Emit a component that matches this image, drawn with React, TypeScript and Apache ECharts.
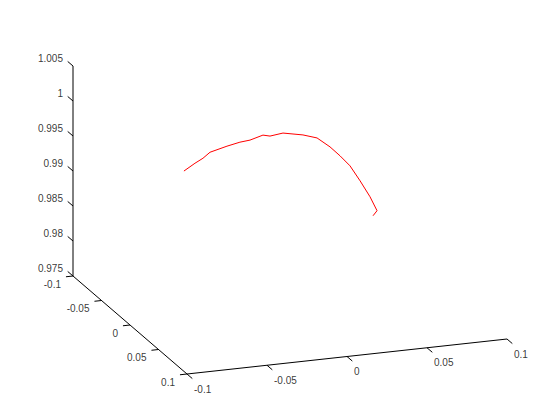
import React, { useEffect, useRef } from "react";
import * as echarts from "echarts";

// tick values of the three axes
const xTicks = [-0.1, -0.05, 0, 0.05, 0.1];
const yTicks = [-0.1, -0.05, 0, 0.05, 0.1];
const zTicks = [0.975, 0.98, 0.985, 0.99, 0.995, 1, 1.005];
const xTickLabels = ["-0.1", "-0.05", "0", "0.05", "0.1"];
const yTickLabels = ["-0.1", "-0.05", "0", "0.05", "0.1"];
const zTickLabels = ["0.975", "0.98", "0.985", "0.99", "0.995", "1", "1.005"];

// the 3-D curve
const curveX = [-0.0663, -0.0594, -0.0544, -0.05, -0.0394, -0.0313, -0.025, -0.0169, -0.0125, -0.0044, 0.0081, 0.0169, 0.025, 0.0313, 0.0375, 0.0438, 0.05, 0.0544, 0.0519];
const curveY = [0, 0, 0, 0, 0, 0, 0, 0, 0, 0, 0, 0, 0, 0, 0, 0, 0, 0, 0];
const curveZ = [0.99615, 0.99709, 0.99768, 0.99843, 0.99903, 0.9994, 0.99954, 1.00005, 0.9998, 1.00003, 0.99945, 0.9988, 0.99732, 0.99588, 0.9943, 0.992, 0.98957, 0.98747, 0.98681];

const X0 = -0.1, X1 = 0.1, Y0 = -0.1, Y1 = 0.1, Z0 = 0.975, Z1 = 1.005;

// simple oblique projection of the MATLAB-style view into the 2-D helper scale
function project(x: number, y: number, z: number): [number, number] {
  const a = (x - X0) / (X1 - X0);
  const b = (y - Y0) / (Y1 - Y0);
  const c = (z - Z0) / (Z1 - Z0);
  const sx = 73 + a * 320 + b * 114;
  const sy = 276 - a * 35 + b * 98 - c * 210;
  return [sx, sy];
}

const FONT = "'Liberation Sans', Arial, Helvetica, sans-serif";

export default function App() {
  const ref = useRef<HTMLDivElement>(null);
  useEffect(() => {
    if (!ref.current) return;
    const chart = echarts.init(ref.current, undefined, { renderer: "svg" });

    const axisLine = (pts: [number, number][]) => ({
      type: "line",
      data: pts,
      symbol: "none",
      silent: true,
      lineStyle: { color: "#000", width: 1 },
      z: 2,
    });

    const zAxis = [project(X0, Y0, Z0), project(X0, Y0, Z1)];
    const yAxis3 = [project(X0, Y0, Z0), project(X0, Y1, Z0)];
    const xAxis3 = [project(X0, Y1, Z0), project(X1, Y1, Z0)];

    const tickSegs: any[] = [];
    const dy = 0.0093, dx = 0.0044;
    zTicks.forEach((z) => {
      tickSegs.push(project(X0, Y0, z), project(X0, Y0 - dy, z), null);
    });
    yTicks.forEach((y) => {
      tickSegs.push(project(X0, y, Z0), project(X0 - dx, y, Z0), null);
    });
    xTicks.forEach((x) => {
      tickSegs.push(project(x, Y1, Z0), project(x, Y1 + dy, Z0), null);
    });

    const labelSeries = (
      pts: [number, number][],
      texts: string[],
      align: string,
      offset: [number, number]
    ) => ({
      type: "scatter",
      symbolSize: 0,
      silent: true,
      data: pts.map((p, i) => ({ value: p, name: texts[i] })),
      label: {
        show: true,
        position: "inside",
        align,
        verticalAlign: "middle",
        offset,
        formatter: (p: any) => p.name,
        color: "#000",
        fontSize: 10,
        fontFamily: FONT,
      },
    });

    const curve = curveX.map((x, i) => project(x, curveY[i], curveZ[i]));

    chart.setOption({
      animation: false,
      backgroundColor: "#fff",
      grid: { left: 0, top: 0, right: 0, bottom: 0 },
      xAxis: { type: "value", min: 0, max: 560, show: false },
      yAxis: { type: "value", min: 0, max: 420, inverse: true, show: false },
      series: [
        axisLine(zAxis as any),
        axisLine(yAxis3 as any),
        axisLine(xAxis3 as any),
        {
          type: "line",
          data: tickSegs,
          symbol: "none",
          silent: true,
          connectNulls: false,
          lineStyle: { color: "#000", width: 1 },
        },
        labelSeries(zTicks.map((z) => project(X0, Y0, z)), zTickLabels, "right", [-10, -8]),
        labelSeries(yTicks.map((y) => project(X0, y, Z0)), yTickLabels, "right", [-12, 8]),
        labelSeries(xTicks.map((x) => project(x, Y1, Z0)), xTickLabels, "left", [7, 15]),
        {
          type: "line",
          data: curve,
          symbol: "none",
          silent: true,
          lineStyle: { color: "#ff0000", width: 1 },
          z: 3,
        },
      ],
    });
    return () => chart.dispose();
  }, []);
  return (
    <div
      ref={ref}
      style={{ position: "fixed", left: 0, top: 0, width: 560, height: 420 }}
    />
  );
}
